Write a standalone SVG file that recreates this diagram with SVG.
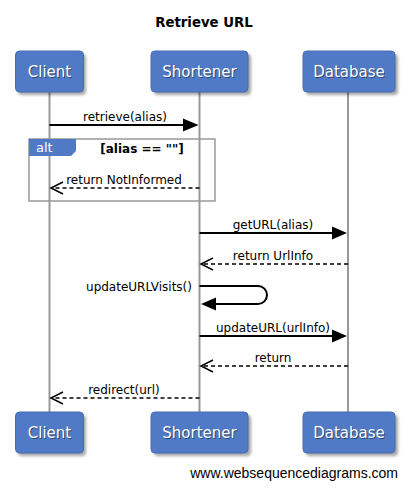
<svg xmlns="http://www.w3.org/2000/svg" width="409" height="488" viewBox="0 0 409 488">
<style>
.box{fill:#5079c6;stroke:#456cb5;stroke-width:1}
.shadow{fill:#000;opacity:0.35}
.pl{font-family:"DejaVu Sans",sans-serif;font-size:15px;fill:#fff;text-anchor:middle}
.plsh{font-family:"DejaVu Sans",sans-serif;font-size:15px;fill:#000;opacity:0.45;text-anchor:middle}
.life{stroke:#999;stroke-width:2;fill:none}
.msg{stroke:#000;stroke-width:2;fill:none}
.ret{stroke:#000;stroke-width:1.5;fill:none;stroke-dasharray:4,3}
.lbl{font-family:"DejaVu Sans",sans-serif;font-size:12px;fill:#000;text-anchor:middle}
.head{fill:#000}
.open{stroke:#000;stroke-width:1.5;fill:none}
</style>
<defs>
<filter id="blur" x="-20%" y="-20%" width="140%" height="140%"><feGaussianBlur stdDeviation="1.5"/></filter>
</defs>
<rect width="409" height="488" fill="#fff"/>
<text x="204" y="27" font-family="DejaVu Sans,sans-serif" font-size="13.3" font-weight="bold" text-anchor="middle" fill="#000">Retrieve URL</text>

<g id="lifelines">
<line class="life" x1="49.5" y1="92" x2="49.5" y2="412"/>
<line class="life" x1="199.5" y1="92" x2="199.5" y2="412"/>
<line class="life" x1="348" y1="92" x2="348" y2="412"/>
</g>

<g id="alt-frame">
<rect x="29" y="139" width="186" height="62" fill="none" stroke="#999" stroke-width="1.5"/>
<polygon points="29,139 76,139 76,151 71,156 29,156" fill="#5079c6"/>
<text x="36" y="152" font-family="DejaVu Sans,sans-serif" font-size="13" fill="#fff">alt</text>
<text x="142" y="153" font-family="DejaVu Sans,sans-serif" font-size="12" font-weight="bold" text-anchor="middle">[alias == ""]</text>
</g>

<g id="node-client-top">
<rect class="shadow" x="18" y="54" width="68" height="41" rx="4" filter="url(#blur)"/>
<rect class="box" x="15.5" y="51" width="68" height="41" rx="4"/>
<text class="plsh" x="50.5" y="78">Client</text>
<text class="pl" x="49.5" y="77">Client</text>
</g>
<g id="node-shortener-top">
<rect class="shadow" x="154" y="54" width="97" height="41" rx="4" filter="url(#blur)"/>
<rect class="box" x="151" y="51" width="97" height="41" rx="4"/>
<text class="plsh" x="200.5" y="78">Shortener</text>
<text class="pl" x="199.5" y="77">Shortener</text>
</g>
<g id="node-database-top">
<rect class="shadow" x="306" y="54" width="92" height="41" rx="4" filter="url(#blur)"/>
<rect class="box" x="303" y="51" width="92" height="41" rx="4"/>
<text class="plsh" x="350" y="78">Database</text>
<text class="pl" x="349" y="77">Database</text>
</g>

<g id="node-client-bottom">
<rect class="shadow" x="18" y="415" width="68" height="41" rx="4" filter="url(#blur)"/>
<rect class="box" x="15.5" y="412" width="68" height="41" rx="4"/>
<text class="plsh" x="50.5" y="439">Client</text>
<text class="pl" x="49.5" y="438">Client</text>
</g>
<g id="node-shortener-bottom">
<rect class="shadow" x="154" y="415" width="97" height="41" rx="4" filter="url(#blur)"/>
<rect class="box" x="151" y="412" width="97" height="41" rx="4"/>
<text class="plsh" x="200.5" y="439">Shortener</text>
<text class="pl" x="199.5" y="438">Shortener</text>
</g>
<g id="node-database-bottom">
<rect class="shadow" x="306" y="415" width="92" height="41" rx="4" filter="url(#blur)"/>
<rect class="box" x="303" y="412" width="92" height="41" rx="4"/>
<text class="plsh" x="350" y="439">Database</text>
<text class="pl" x="349" y="438">Database</text>
</g>

<g id="connectors">
<!-- retrieve(alias) -->
<line class="msg" x1="49.5" y1="125" x2="186" y2="125"/>
<polygon class="head" points="198.5,125 183,118.5 183,131.5"/>
<text class="lbl" x="125" y="121">retrieve(alias)</text>

<!-- return NotInformed -->
<line class="ret" x1="199.5" y1="188" x2="52" y2="188"/>
<polyline class="open" points="63,182 51,188 63,194"/>
<text class="lbl" x="124" y="184">return NotInformed</text>

<!-- getURL(alias) -->
<line class="msg" x1="199.5" y1="233" x2="335" y2="233"/>
<polygon class="head" points="347,233 332,226.5 332,239.5"/>
<text class="lbl" x="273" y="229">getURL(alias)</text>

<!-- return UrlInfo -->
<line class="ret" x1="348" y1="264" x2="202" y2="264"/>
<polyline class="open" points="213,258 201,264 213,270"/>
<text class="lbl" x="273" y="260">return UrlInfo</text>

<!-- updateURLVisits() -->
<path class="msg" d="M199.5,286 H258 A9,9 0 0 1 258,304 H212"/>
<polygon class="head" points="201,304 216,297.5 216,310.5"/>
<text class="lbl" x="192" y="291" text-anchor="end" style="text-anchor:end">updateURLVisits()</text>

<!-- updateURL(urlInfo) -->
<line class="msg" x1="199.5" y1="336" x2="335" y2="336"/>
<polygon class="head" points="347,336 332,329.5 332,342.5"/>
<text class="lbl" x="273" y="332">updateURL(urlInfo)</text>

<!-- return -->
<line class="ret" x1="348" y1="366" x2="202" y2="366"/>
<polyline class="open" points="213,360 201,366 213,372"/>
<text class="lbl" x="273" y="362">return</text>

<!-- redirect(url) -->
<line class="ret" x1="199.5" y1="398" x2="52" y2="398"/>
<polyline class="open" points="63,392 51,398 63,404"/>
<text class="lbl" x="124" y="394">redirect(url)</text>
</g>

<text x="398" y="478" font-family="Liberation Sans,Arial,sans-serif" font-size="14" text-anchor="end" fill="#000">www.websequencediagrams.com</text>
</svg>
